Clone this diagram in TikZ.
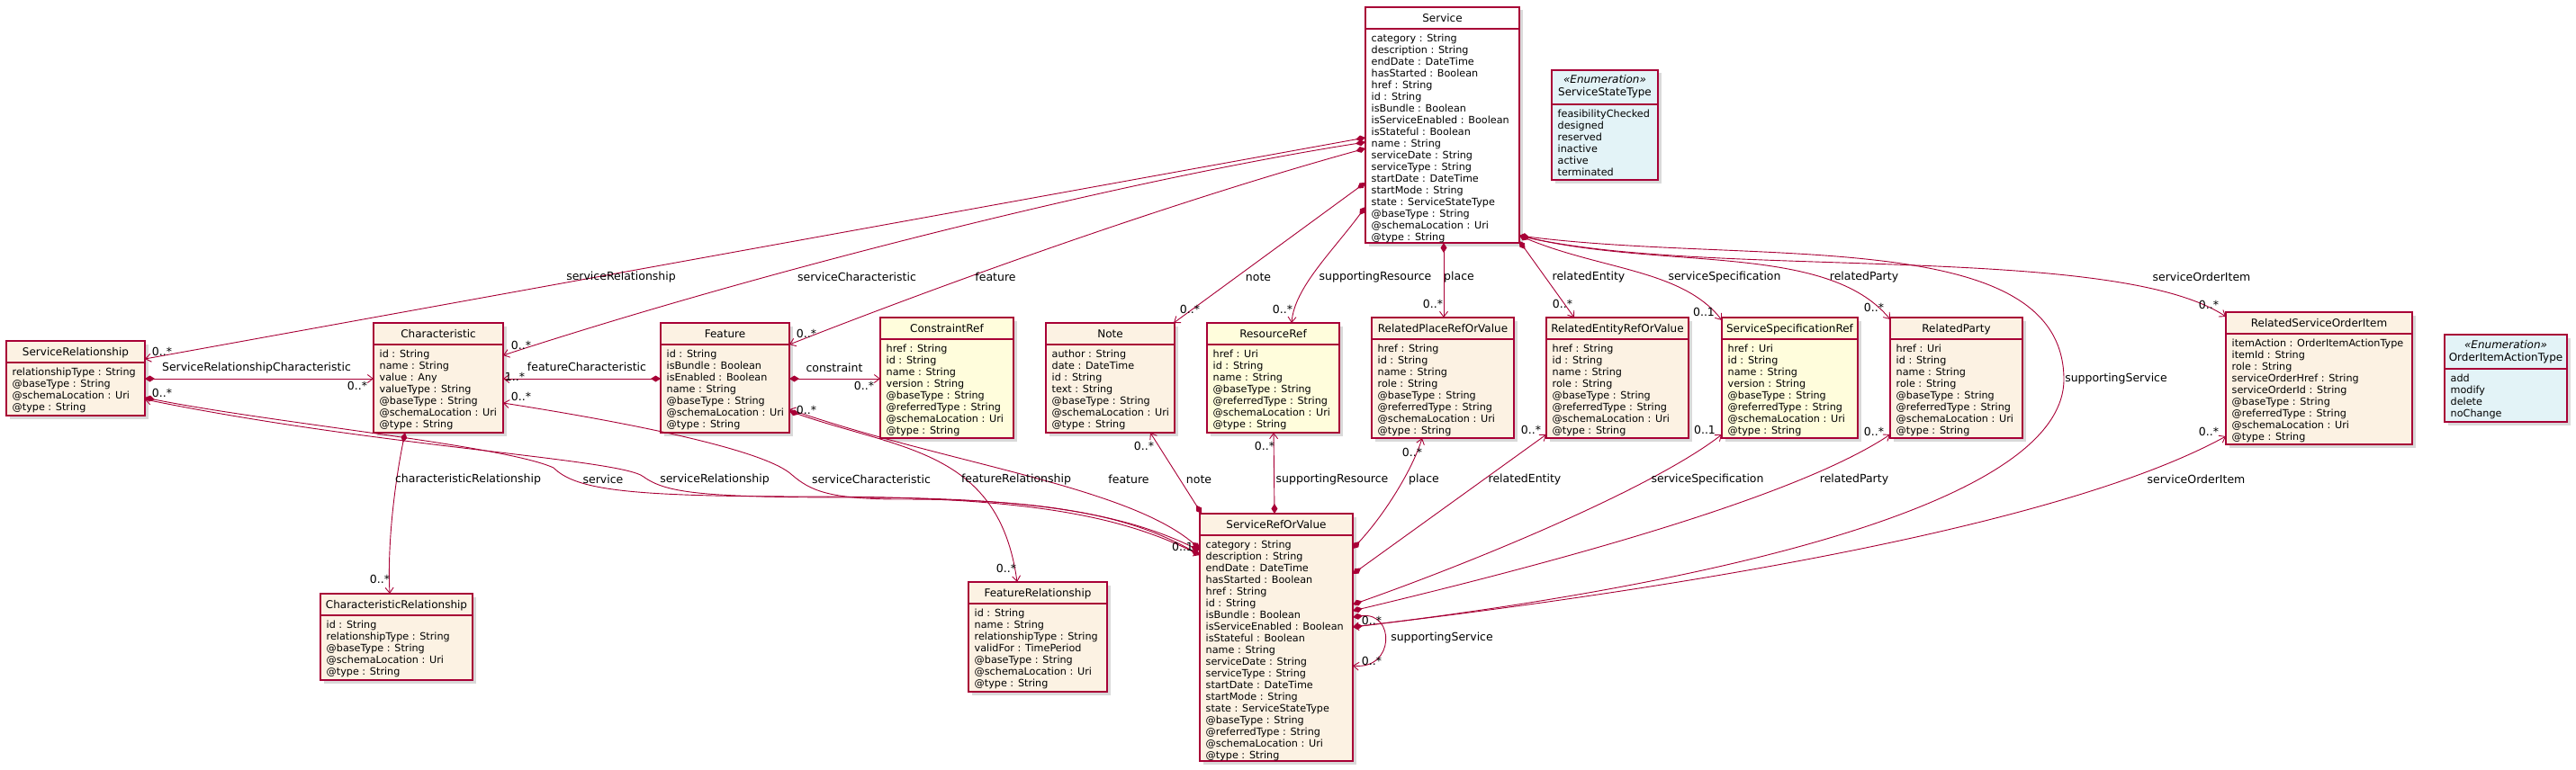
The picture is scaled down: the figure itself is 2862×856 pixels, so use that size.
\documentclass[tikz,border=0pt]{standalone}
\usepackage{fontspec}
\setmainfont{DejaVu Sans}
\usetikzlibrary{arrows.meta,calc,shadows}
\definecolor{bord}{HTML}{A80036}
\definecolor{beige}{HTML}{FCF2E3}
\definecolor{yel}{HTML}{FFFDDC}
\definecolor{enumc}{HTML}{E3F3F7}
\tikzset{
 box/.style={draw=bord, line width=1.3pt, anchor=north west, inner sep=0pt, outer sep=0pt,
   drop shadow={opacity=0.3, shadow xshift=3.5pt, shadow yshift=-3.5pt}},
 divl/.style={draw=bord, line width=1.3pt},
 ttl/.style={anchor=base, inner sep=0pt, font=\fontsize{12}{14}\selectfont},
 attr/.style={anchor=base west, inner sep=0pt, font=\fontsize{11.2}{13}\selectfont},
 lbl/.style={inner sep=0pt, font=\fontsize{12.5}{14}\selectfont},
 comp/.style={draw=bord, line width=0.9pt, {Diamond[length=11pt,width=7pt]}-{Straight Barb[length=6pt,width=9pt]}},
}
\newcommand\umlcls[8]{%
  \node[box, fill=#6, minimum width=#4pt, minimum height=#5pt] (#1) at (#2,#3) {};
  \draw[divl] (#2,{#3+24}) -- ++(#4,0);
  \node[ttl] (#1t) at ({#2+#4/2},{#3+16.5}) {#7};
  \foreach \r [count=\i] in {#8} {\node[attr] (#1r\i) at ({#2+6.5},{#3+38.5+13*(\i-1)}) {\r};}
}
\newcommand\umlenum[7]{%
  \node[box, fill=enumc, minimum width=#4pt, minimum height=#5pt] (#1) at (#2,#3) {};
  \draw[divl] (#2,{#3+38}) -- ++(#4,0);
  \node[ttl] (#1s) at ({#2+#4/2},{#3+15}) {\itshape «Enumeration»};
  \node[ttl] (#1t) at ({#2+#4/2},{#3+29}) {#6};
  \foreach \r [count=\i] in {#7} {\node[attr] (#1r\i) at ({#2+6.5},{#3+52.5+13*(\i-1)}) {\r};}
}
\begin{document}
\begin{tikzpicture}[x=1pt,y=-1pt]
\useasboundingbox (0,0) rectangle (2862,856);

\umlcls{svc}{1517}{8}{171}{262}{white}{Service}{category : String,description : String,endDate : DateTime,hasStarted : Boolean,href : String,id : String,isBundle : Boolean,isServiceEnabled : Boolean,isStateful : Boolean,name : String,serviceDate : String,serviceType : String,startDate : DateTime,startMode : String,state : ServiceStateType,@baseType : String,@schemaLocation : Uri,@type : String}
\umlenum{sst}{1724}{78}{118}{122}{ServiceStateType}{feasibilityChecked,designed,reserved,inactive,active,terminated}
\umlcls{srel}{7}{379}{154}{83}{beige}{ServiceRelationship}{relationshipType : String,@baseType : String,@schemaLocation : Uri,@type : String}
\umlcls{char}{415}{359}{144}{122}{beige}{Characteristic}{id : String,name : String,value : Any,valueType : String,@baseType : String,@schemaLocation : Uri,@type : String}
\umlcls{feat}{734}{359}{143}{122}{beige}{Feature}{id : String,isBundle : Boolean,isEnabled : Boolean,name : String,@baseType : String,@schemaLocation : Uri,@type : String}
\umlcls{cref}{978}{353}{148}{134}{yel}{ConstraintRef}{href : String,id : String,name : String,version : String,@baseType : String,@referredType : String,@schemaLocation : Uri,@type : String}
\umlcls{note}{1162}{359}{143}{122}{beige}{Note}{author : String,date : DateTime,id : String,text : String,@baseType : String,@schemaLocation : Uri,@type : String}
\umlcls{rref}{1341}{359}{147}{122}{yel}{ResourceRef}{href : Uri,id : String,name : String,@baseType : String,@referredType : String,@schemaLocation : Uri,@type : String}
\umlcls{rplace}{1524}{353}{158}{134}{beige}{RelatedPlaceRefOrValue}{href : String,id : String,name : String,role : String,@baseType : String,@referredType : String,@schemaLocation : Uri,@type : String}
\umlcls{rent}{1718}{353}{158}{134}{beige}{RelatedEntityRefOrValue}{href : String,id : String,name : String,role : String,@baseType : String,@referredType : String,@schemaLocation : Uri,@type : String}
\umlcls{sspec}{1913}{353}{151}{134}{yel}{ServiceSpecificationRef}{href : Uri,id : String,name : String,version : String,@baseType : String,@referredType : String,@schemaLocation : Uri,@type : String}
\umlcls{rparty}{2100}{353}{147}{134}{beige}{RelatedParty}{href : Uri,id : String,name : String,role : String,@baseType : String,@referredType : String,@schemaLocation : Uri,@type : String}
\umlcls{rsoi}{2473}{347}{207}{147}{beige}{RelatedServiceOrderItem}{itemAction : OrderItemActionType,itemId : String,role : String,serviceOrderHref : String,serviceOrderId : String,@baseType : String,@referredType : String,@schemaLocation : Uri,@type : String}
\umlenum{oiat}{2716}{372}{136}{97}{OrderItemActionType}{add,modify,delete,noChange}
\umlcls{crel}{356}{660}{169}{96}{beige}{CharacteristicRelationship}{id : String,relationshipType : String,@baseType : String,@schemaLocation : Uri,@type : String}
\umlcls{frel}{1076}{647}{154}{122}{beige}{FeatureRelationship}{id : String,name : String,relationshipType : String,validFor : TimePeriod,@baseType : String,@schemaLocation : Uri,@type : String}
\umlcls{srov}{1333}{571}{170}{275}{beige}{ServiceRefOrValue}{category : String,description : String,endDate : DateTime,hasStarted : Boolean,href : String,id : String,isBundle : Boolean,isServiceEnabled : Boolean,isStateful : Boolean,name : String,serviceDate : String,serviceType : String,startDate : DateTime,startMode : String,state : ServiceStateType,@baseType : String,@referredType : String,@schemaLocation : Uri,@type : String}

% connectors from Service
\draw[comp] ($(svc.north west)+(0,145)$) -- ($(srel.north east)+(0,20)$);
\draw[comp] ($(svc.north west)+(0,150)$) .. controls (1250,200) and (850,300) .. ($(char.north east)+(0,36)$);
\draw[comp] ($(svc.north west)+(0,157)$) .. controls (1300,225) and (1050,315) .. ($(feat.north east)+(0,24)$);
\draw[comp] ($(svc.north west)+(0,195)$) -- ($(note.north east)+(-1,0)$);
\draw[comp] ($(svc.north west)+(0,222)$) .. controls (1480,280) and (1438,320) .. ($(rref.north west)+(94,0)$);
\draw[comp] ($(svc.south west)+(87,0)$) -- ($(rplace.north west)+(80,0)$);
\draw[comp] ($(svc.south east)+(0,-2)$) -- ($(rent.north west)+(31,0)$);
\draw[comp] ($(svc.south east)+(0,-8)$) .. controls (1780,300) and (1870,300) .. ($(sspec.north west)+(0,3)$);
\draw[comp] ($(svc.south east)+(0,-8)$) .. controls (1850,300) and (2030,270) .. ($(rparty.north west)+(0,2)$);
\draw[comp] ($(svc.south east)+(0,-8)$) .. controls (1900,310) and (2350,270) .. ($(rsoi.north west)+(0,5)$);
\draw[comp] ($(svc.south east)+(0,-8)$) .. controls (1950,295) and (2290,250) .. (2293,420) .. controls (2296,560) and (1900,650) .. ($(srov.north east)+(0,126)$);

% connectors from ServiceRefOrValue
\draw[comp] ($(srov.north east)+(0,39)$) .. controls (1540,570) and (1570,520) .. ($(rplace.south west)+(56,0)$);
\draw[comp] ($(srov.north east)+(0,67)$) -- ($(rent.south west)+(0,-4)$);
\draw[comp] ($(srov.north east)+(0,101)$) .. controls (1650,620) and (1840,540) .. ($(sspec.south west)+(0,-4)$);
\draw[comp] ($(srov.north east)+(0,108)$) .. controls (1750,620) and (2000,550) .. ($(rparty.south west)+(0,-4)$);
\draw[comp] ($(srov.north east)+(0,126)$) .. controls (1900,650) and (2300,580) .. ($(rsoi.south west)+(0,-9)$);
\draw[comp] ($(srov.north east)+(0,115)$) .. controls (1550,680) and (1550,745) .. ($(srov.north east)+(0,169)$);
\draw[comp] ($(srov.north west)+(2,0)$) -- ($(note.south west)+(116,0)$);
\draw[comp] ($(srov.north west)+(83,0)$) -- ($(rref.south west)+(74,0)$);
\draw[comp] ($(srov.north west)+(0,39)$) .. controls (1250,540) and (1050,515) .. ($(feat.south east)+(0,-26)$);
\draw[comp] ($(srov.north west)+(0,41)$) .. controls (1250,572) and (1150,553) .. (950,553) .. controls (780,553) and (740,548) .. (715,530) .. controls (690,510) and (420,497) .. ($(srel.south east)+(0,-18)$);
\draw[comp] ($(srov.north west)+(0,46)$) .. controls (1250,570) and (1150,555) .. (1000,555) .. controls (920,555) and (900,545) .. (880,528) .. controls (850,500) and (700,470) .. ($(char.south east)+(0,-33)$);

% other connectors
\draw[comp] ($(srel.south east)+(0,-20)$) .. controls (300,470) and (560,495) .. (615,520) .. controls (640,545) and (700,552) .. (900,552) .. controls (1150,552) and (1250,575) .. ($(srov.north west)+(0,46)$);
\draw[comp] ($(feat.south east)+(0,-24)$) .. controls (1000,500) and (1110,500) .. ($(frel.north west)+(54,0)$);
\draw[comp] ($(char.south west)+(35,0)$) .. controls (440,530) and (430,600) .. ($(crel.north west)+(77,0)$);
\draw[comp] ($(feat.north west)+(0,62)$) -- ($(char.north east)+(0,62)$);
\draw[comp] ($(feat.north east)+(0,62)$) -- ($(cref.north west)+(0,68)$);
\draw[comp] ($(srel.north east)+(0,42)$) -- ($(char.north west)+(0,62)$);

% connector labels
\node[lbl] (l1) at (690,308) {serviceRelationship};
\node[lbl] (l2) at (952,308) {serviceCharacteristic};
\node[lbl] (l3) at (1106,308) {feature};
\node[lbl] (l4) at (1398,308) {note};
\node[lbl] (l5) at (1528,308) {supportingResource};
\node[lbl] (l6) at (1621,308) {place};
\node[lbl] (l7) at (1765,308) {relatedEntity};
\node[lbl] (l8) at (1916,308) {serviceSpecification};
\node[lbl] (l9) at (2071,308) {relatedParty};
\node[lbl] (l10) at (2446,308) {serviceOrderItem};
\node[lbl] (l11) at (2351,421) {supportingService};
\node[lbl] (b1) at (520,533) {characteristicRelationship};
\node[lbl] (b2) at (670,533) {service};
\node[lbl] (b3) at (794,533) {serviceRelationship};
\node[lbl] (b4) at (968,533) {serviceCharacteristic};
\node[lbl] (b5) at (1129,533) {featureRelationship};
\node[lbl] (b6) at (1254,533) {feature};
\node[lbl] (b7) at (1332,533) {note};
\node[lbl] (b8) at (1480,533) {supportingResource};
\node[lbl] (b9) at (1582,533) {place};
\node[lbl] (b10) at (1694,533) {relatedEntity};
\node[lbl] (b11) at (1897,533) {serviceSpecification};
\node[lbl] (b12) at (2060,533) {relatedParty};
\node[lbl] (b13) at (2440,533) {serviceOrderItem};
\node[lbl] (b14) at (1602,709) {supportingService};
\node[lbl] (c1) at (285,409) {ServiceRelationshipCharacteristic};
\node[lbl] (c2) at (652,408) {featureCharacteristic};
\node[lbl] (c3) at (927,409) {constraint};

% multiplicities
\node[lbl] (m1) at (180,391) {0..*};
\node[lbl] (m2) at (579,384) {0..*};
\node[lbl] (m3) at (896,371) {0..*};
\node[lbl] (m4) at (1322,344) {0..*};
\node[lbl] (m5) at (1425,344) {0..*};
\node[lbl] (m6) at (1592,338) {0..*};
\node[lbl] (m7) at (1736,338) {0..*};
\node[lbl] (m8) at (1893,347) {0..1};
\node[lbl] (m9) at (2082,342) {0..*};
\node[lbl] (m10) at (2454,339) {0..*};
\node[lbl] (m11) at (397,429) {0..*};
\node[lbl] (m12) at (572,419) {1..*};
\node[lbl] (m13) at (960,429) {0..*};
\node[lbl] (m14) at (579,441) {0..*};
\node[lbl] (m15) at (896,456) {0..*};
\node[lbl] (m16) at (180,437) {0..*};
\node[lbl] (m17) at (422,644) {0..*};
\node[lbl] (m18) at (1118,632) {0..*};
\node[lbl] (m19) at (1314,608) {0..1};
\node[lbl] (m20) at (1271,496) {0..*};
\node[lbl] (m21) at (1405,496) {0..*};
\node[lbl] (m22) at (1569,503) {0..*};
\node[lbl] (m23) at (1701,478) {0..*};
\node[lbl] (m24) at (1894,478) {0..1};
\node[lbl] (m25) at (2082,480) {0..*};
\node[lbl] (m26) at (2454,480) {0..*};
\node[lbl] (m27) at (1524,690) {0..*};
\node[lbl] (m28) at (1524,735) {0..*};
\end{tikzpicture}
\end{document}
